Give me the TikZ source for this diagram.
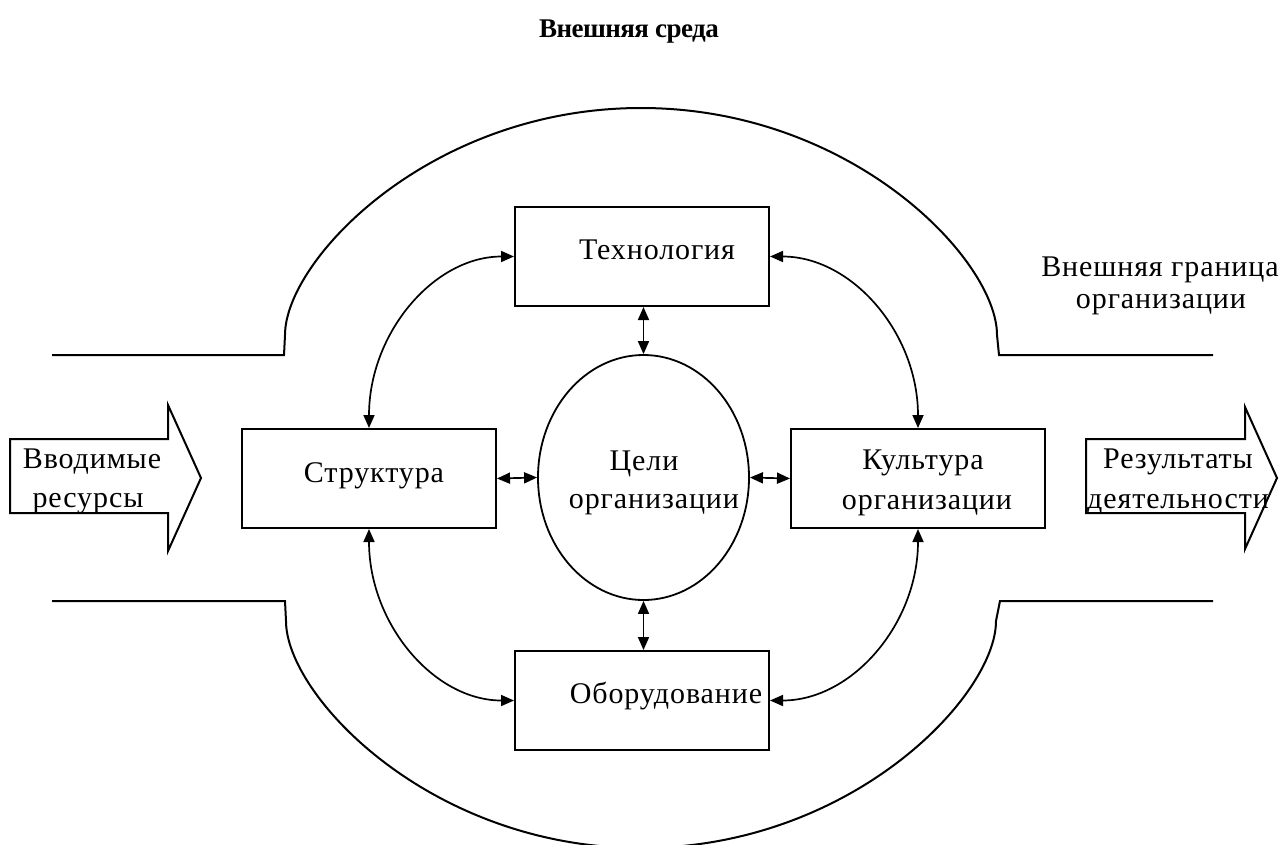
\documentclass[tikz,border=0pt]{standalone}
\usepackage{fontspec}
\setmainfont{Liberation Serif}
\newfontfamily\labfont{Liberation Serif}[LetterSpace=3]
\newfontfamily\ttlfont{Liberation Serif}[LetterSpace=-2]
\usetikzlibrary{arrows.meta,shapes.geometric}
\tikzset{
  txt/.style={font=\labfont\fontsize{30}{32}\selectfont, anchor=base, inner sep=0pt},
  ttl/.style={font=\ttlfont\bfseries\fontsize{27}{30}\selectfont, anchor=base, inner sep=0pt},
  boxnode/.style={draw, line width=2pt, minimum width=254pt, minimum height=99pt, inner sep=0pt},
  goalnode/.style={draw, line width=1.8pt, ellipse, minimum width=211pt, minimum height=245pt, inner sep=0pt},
  dbl/.style={line width=1.7pt, {Triangle[length=13pt,width=11pt]}-{Triangle[length=13pt,width=11pt]}},
  bound/.style={line width=2pt},
  bigarrow/.style={line width=2pt, line join=miter}
}
\begin{document}
\begin{tikzpicture}[x=1pt,y=-1pt]
\useasboundingbox (0,0) rectangle (1285,844);

% title
\node[ttl] (title) at (629,37) {Внешняя среда};

% outer boundary of the organisation
\draw[bound] (52,355) -- (284,355) -- (285,335)
  .. controls (285,260) and (430,108) .. (641,108)
  .. controls (852,108) and (997,260) .. (997,335) -- (999,355) -- (1213,355);
\draw[bound] (52,601) -- (285,601) -- (286,621)
  .. controls (286,696) and (431,848) .. (641,848)
  .. controls (851,848) and (996,696) .. (996,621) -- (1000,601) -- (1213,601);

\node[txt] (bnd1) at (1160,276) {Внешняя граница};
\node[txt] (bnd2) at (1161,308) {организации};

% input / output arrows
\draw[bigarrow] (10,439) -- (168,439) -- (168,405) -- (201,478) -- (168,551) -- (168,513) -- (10,513) -- cycle;
\node[txt] (in1) at (92,468) {Вводимые};
\node[txt] (in2) at (88,507) {ресурсы};

\draw[bigarrow] (1086,439) -- (1245,439) -- (1245,407) -- (1277,478) -- (1245,549) -- (1245,513) -- (1086,513) -- cycle;
\node[txt] (out1) at (1178,468) {Результаты};
\node[txt] (out2) at (1178,508) {деятельности};

% boxes
\node[boxnode] (tech) at (642,256.5) {};
\node[txt] (techt) at (657,259) {Технология};

\node[boxnode] (struct) at (369,478.5) {};
\node[txt] (structt) at (374,482) {Структура};

\node[boxnode] (cult) at (918,478.5) {};
\node[txt] (cult1) at (923,469) {Культура};
\node[txt] (cult2) at (927,509) {организации};

\node[boxnode] (equip) at (642,700.5) {};
\node[txt] (equipt) at (666,703) {Оборудование};

% goals
\node[goalnode] (goal) at (643.5,477.5) {};
\node[txt] (goal1) at (644,470) {Цели};
\node[txt] (goal2) at (654,508) {организации};

% connectors
\draw[dbl] (goal.north) -- (goal.north |- tech.south);
\draw[dbl] (goal.south) -- (goal.south |- equip.north);
\draw[dbl] (struct.east) -- (goal.west);
\draw[dbl] (goal.east) -- (cult.west);
\draw[dbl] (struct.north) .. controls +(0,-95) and +(-80,0) .. (tech.west);
\draw[dbl] (tech.east) .. controls +(82,0) and +(0,-95) .. (cult.north);
\draw[dbl] (struct.south) .. controls +(0,95) and +(-80,0) .. (equip.west);
\draw[dbl] (cult.south) .. controls +(0,95) and +(82,0) .. (equip.east);
\end{tikzpicture}
\end{document}
